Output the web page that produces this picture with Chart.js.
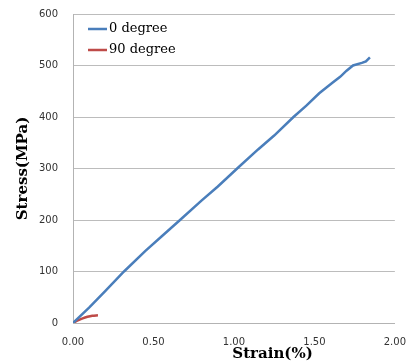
<!DOCTYPE html>
<html>
<head>
<meta charset="utf-8">
<script src="https://cdn.jsdelivr.net/npm/chart.js@4.4.1/dist/chart.umd.min.js"></script>
<style>
  html, body { margin: 0; padding: 0; background: #fff; }
  #wrap { width: 411px; height: 363px; position: relative; }
</style>
</head>
<body>
<div id="wrap"><canvas id="grafico"></canvas></div>
<script>
// Datos (deformacion %, esfuerzo MPa)
const strain0 = [0, 0.10, 0.20, 0.317, 0.45, 0.55, 0.665, 0.80, 0.90, 1.02, 1.15, 1.25, 1.37, 1.45, 1.53, 1.61, 1.66, 1.70, 1.74, 1.795, 1.82, 1.845];
const stress0 = [0, 30, 62, 100, 140, 168, 200, 238, 265, 300, 337, 364, 400, 422, 446, 466, 478, 490, 500, 505, 508, 516];
const strain90 = [0, 0.03, 0.06, 0.09, 0.12, 0.155];
const stress90 = [0, 5, 9, 12, 14, 15];
const seriesLabels = ['0 degree', '90 degree'];
const yTicks = [0, 100, 200, 300, 400, 500, 600];
const xTicks = [0, 0.5, 1.0, 1.5, 2.0];

const toPoints = (xs, ys) => xs.map((x, i) => ({ x: x, y: ys[i] }));

// Leyenda dentro del area del grafico (arriba a la izquierda)
const leyendaInterna = {
    id: 'leyendaInterna',
    afterDraw(chart) {
        const ctx = chart.ctx;
        const area = chart.chartArea;
        ctx.save();
        chart.data.datasets.forEach((ds, i) => {
            const y = area.top + 15 + i * 21;
            const x0 = area.left + 15;
            ctx.strokeStyle = ds.borderColor;
            ctx.lineWidth = 2.5;
            ctx.beginPath();
            ctx.moveTo(x0, y);
            ctx.lineTo(x0 + 19, y);
            ctx.stroke();
            ctx.fillStyle = '#000';
            ctx.font = '13px "DejaVu Serif"';
            ctx.textBaseline = 'middle';
            ctx.textAlign = 'left';
            ctx.fillText(ds.label, x0 + 21, y);
        });
        // titulo del eje X (desplazado a la derecha como en la figura)
        const xs = chart.scales.x;
        ctx.font = 'bold 15px "DejaVu Serif"';
        ctx.textAlign = 'center';
        ctx.textBaseline = 'middle';
        ctx.fillStyle = '#000';
        ctx.fillText('Strain(%)', xs.getPixelForValue(1.24), 354);
        ctx.restore();
    }
};

const ctx = document.getElementById('grafico').getContext('2d');
new Chart(ctx, {
    type: 'scatter',
    data: {
        datasets: [{
            label: seriesLabels[0],
            data: toPoints(strain0, stress0),
            borderColor: '#4a7ebb',
            backgroundColor: '#4a7ebb',
            borderWidth: 2.5,
            showLine: true,
            pointRadius: 0,
            tension: 0
        }, {
            label: seriesLabels[1],
            data: toPoints(strain90, stress90),
            borderColor: '#be4b48',
            backgroundColor: '#be4b48',
            borderWidth: 2.5,
            showLine: true,
            pointRadius: 0,
            tension: 0.3
        }]
    },
    options: {
        responsive: true,
        maintainAspectRatio: false,
        animation: false,
        layout: { padding: { top: 14, right: 0, left: 0, bottom: 0 } },
        plugins: {
            legend: { display: false },
            tooltip: { enabled: false }
        },
        scales: {
            x: {
                type: 'linear',
                min: xTicks[0],
                max: xTicks[xTicks.length - 1],
                afterBuildTicks: (s) => { s.ticks = xTicks.map(v => ({ value: v })); },
                afterFit: (s) => { s.height = 40; },
                grid: { display: false },
                border: { display: true, color: '#b3b3b3' },
                ticks: {
                    padding: 5,
                    color: '#333',
                    font: { family: 'DejaVu Sans', size: 10 },
                    maxRotation: 0,
                    callback: (v) => Number(v).toFixed(2)
                }
            },
            y: {
                min: yTicks[0],
                max: yTicks[yTicks.length - 1],
                afterBuildTicks: (s) => { s.ticks = yTicks.map(v => ({ value: v })); },
                afterFit: (s) => { s.width = 73; s.paddingTop = 0; s.paddingBottom = 0; },
                grid: { color: '#bcbcbc', drawTicks: false },
                border: { display: true, color: '#b3b3b3' },
                ticks: {
                    padding: 15,
                    color: '#333',
                    font: { family: 'DejaVu Sans', size: 10 }
                },
                title: {
                    display: true,
                    text: 'Stress(MPa)',
                    color: '#000',
                    font: { family: 'DejaVu Serif', size: 15, weight: 'bold' },
                    padding: { top: 14, bottom: 0 }
                }
            }
        }
    },
    plugins: [leyendaInterna]
});
</script>
</body>
</html>
